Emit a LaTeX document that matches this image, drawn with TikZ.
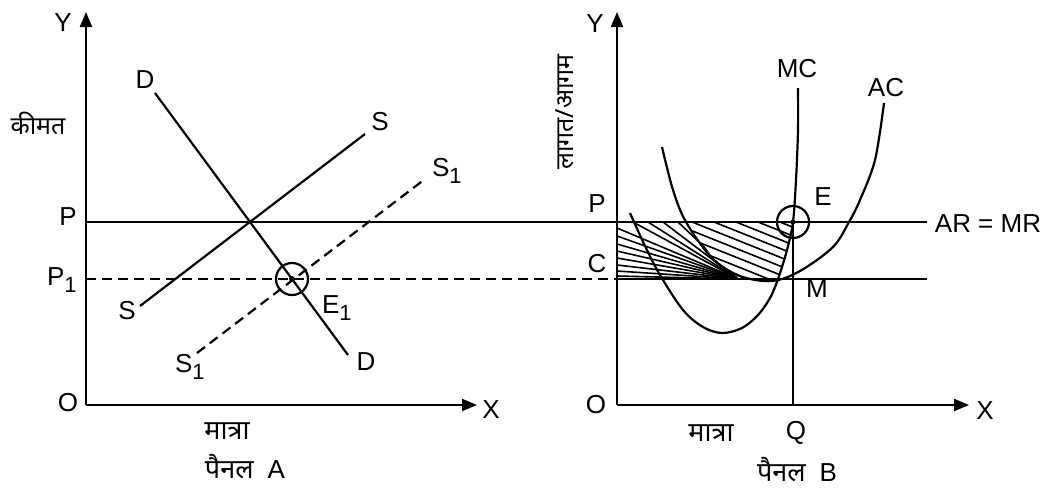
\documentclass[tikz,border=0pt]{standalone}
\usepackage{fontspec}
\setmainfont{Liberation Sans}
\newfontfamily\hindi[Script=Devanagari]{Noto Sans}
\usetikzlibrary{arrows.meta}
\newcommand\sbs[1]{\raisebox{-7pt}{\fontsize{22}{22}\selectfont #1}}
\begin{document}
\begin{tikzpicture}[x=1pt,y=-1pt, line width=2.2pt,
  axis/.style={-{Triangle[length=15pt,width=12pt]}},
  lbl/.style={font=\fontsize{26}{28}\selectfont, inner sep=0pt},
  hlbl/.style={font=\hindi\fontsize{27}{30}\selectfont, inner sep=0pt},
  hlbls/.style={font=\hindi\fontsize{25}{28}\selectfont, inner sep=0pt},
  dsh/.style={dash pattern=on 10pt off 6pt},
  hatch/.style={line width=1.6pt},
  ring/.style={line width=2.2pt}]
\useasboundingbox (0,0) rectangle (1050,488);

% ---------- Panel A ----------
\coordinate (OA) at (86,405);
\coordinate (YA) at (86,12);
\coordinate (XA) at (477,405);
\draw[axis] (OA) -- (YA);
\draw[axis] (OA) -- (XA);

\coordinate (OB) at (617,405);
\coordinate (YB) at (617,12);
\coordinate (XB) at (969,405);

\coordinate (PA) at (86,222);
\coordinate (PB) at (617,222);
\coordinate (PEnd) at (927,222);
\coordinate (P1A) at (86,279);
\coordinate (CB) at (617,279);
\coordinate (CEnd) at (927,279);

% price line P and dashed P1
\draw (PA) -- (PEnd);
\draw[dsh] (P1A) -- (CB);
\draw (CB) -- (CEnd);

% supply S, S1 and demand D
\coordinate (Slo) at (140,306);
\coordinate (Shi) at (365,134);
\coordinate (S1lo) at (197,353);
\coordinate (S1hi) at (425,179);
\coordinate (Dhi) at (155,93);
\coordinate (Dlo) at (348,355);
\draw (Slo) -- (Shi);
\draw[dsh] (S1lo) -- (S1hi);
\draw (Dhi) -- (Dlo);

\coordinate (E1) at (292,279);
\draw[ring] (E1) circle (16);
\fill (E1) circle (3);

\node[lbl] (lYA) at (63,23) {Y};
\node[lbl] (lXA) at (491,410) {X};
\node[lbl] (lOA) at (68,403) {O};
\node[lbl] (lPA) at (68,217) {P};
\node[lbl,anchor=base west] (lP1) at (46,285) {P\sbs{1}};
\node[lbl] (lDt) at (145,80) {D};
\node[lbl] (lSt) at (380,122) {S};
\node[lbl,anchor=base west] (lS1t) at (431,176) {S\sbs{1}};
\node[lbl] (lSb) at (127,311) {S};
\node[lbl,anchor=base west] (lS1b) at (174,372) {S\sbs{1}};
\node[lbl,anchor=base west] (lE1) at (321,313) {E\sbs{1}};
\node[lbl] (lDb) at (366,362) {D};
\node[hlbls] (lkeemat) at (38,123) {कीमत};
\node[hlbl] (lmatraA) at (227,431) {मात्रा};
\node[hlbl] (lpanelA) at (245,467) {पैनल\ \ {\fontspec{Liberation Sans}\fontsize{26}{28}\selectfont A}};

% ---------- Panel B ----------
\draw[axis] (OB) -- (YB);
\draw[axis] (OB) -- (XB);

% hatching left part (fan)
\coordinate (F) at (738,279);
\begin{scope}
  \clip (617,222) -- (688,222) -- (700,240) -- (714,259) -- (740,279) -- (617,279) -- cycle;
  \foreach \yy in {228,236,244,251,258,265,271,276}
    \draw[hatch] (F) -- (617,\yy);
  \foreach \xx in {633,648,663,678}
    \draw[hatch] (F) -- (\xx,222);
\end{scope}
% hatching right part (parallel)
\begin{scope}
  \clip (686,222) -- (793,222) -- (788,248) -- (778,279) -- (745,279) -- (725,271) -- (710,256) -- (697,238) -- cycle;
  \foreach \xo in {560,582,...,800}
    \draw[hatch] (\xo,222) -- ++(200,80);
\end{scope}

% Q vertical
\coordinate (Q) at (793,405);
\coordinate (E) at (793,222);
\draw (Q) -- (E);

% MC curve
\draw plot[smooth, tension=0.55] coordinates {(630,213) (645,246) (660,275) (683,310) (703,327) (722,333) (742,328) (758,315) (770,298) (778,279) (787,250) (793,222) (796,180) (798,130) (798,88)};
% AC curve
\draw plot[smooth, tension=0.55] coordinates {(662,147) (673,190) (686,222) (712,258) (740,276) (772,281) (800,271) (833,247) (849,222) (860,200) (875,160) (884,103)};

\draw[ring] (E) circle (16);
\fill (E) circle (2.5);

\node[lbl] (lYB) at (595,24) {Y};
\node[lbl] (lXB) at (985,411) {X};
\node[lbl] (lOB) at (596,405) {O};
\node[lbl] (lPB) at (597,204) {P};
\node[lbl] (lCB) at (597,264) {C};
\node[lbl] (lE) at (823,197) {E};
\node[lbl] (lM) at (817,289) {M};
\node[lbl] (lARMR) at (988,224) {AR = MR};
\node[lbl] (lMC) at (797,69) {MC};
\node[lbl] (lAC) at (886,88) {AC};
\node[lbl] (lQ) at (796,433) {Q};
\node[hlbls,rotate=90] (llagat) at (565,112) {लागत/आगम};
\node[hlbl] (lmatraB) at (711,433) {मात्रा};
\node[hlbl] (lpanelB) at (797,470) {पैनल\ \ {\fontspec{Liberation Sans}\fontsize{26}{28}\selectfont B}};
\end{tikzpicture}
\end{document}
